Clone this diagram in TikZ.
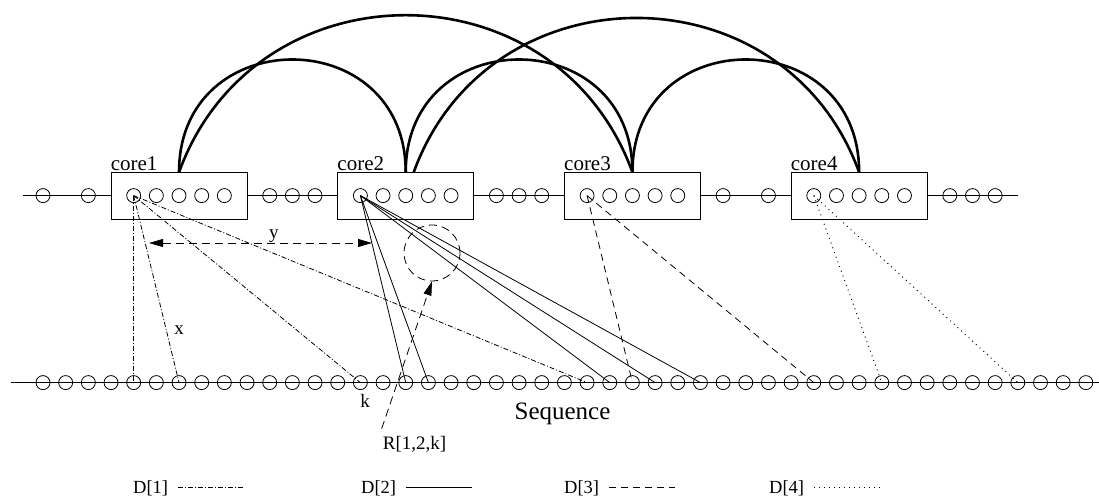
\documentclass[tikz,border=0pt]{standalone}
\usepackage{fontspec}
\setmainfont{Liberation Serif}
\usetikzlibrary{arrows.meta,calc,positioning}

\begin{document}
\begin{tikzpicture}[x=1pt, y=1pt,
  corebox/.style={draw, fill=white, line width=0.9pt, minimum width=136pt, minimum height=46.7pt, inner sep=0pt},
  cellnode/.style={draw, circle, line width=0.8pt, minimum size=14pt, inner sep=0pt},
  corelabel/.style={font=\fontsize{21}{24}\selectfont, inner sep=0pt, anchor=base west},
  labeltext/.style={font=\fontsize{19}{22}\selectfont, inner sep=0pt},
  legendtext/.style={font=\fontsize{18.5}{21}\selectfont, inner sep=0pt},
  linkline/.style={line width=2.6pt},
  dfirst/.style={line width=0.8pt, dash pattern=on 5pt off 2pt on 1pt off 2pt},
  dsecond/.style={line width=0.8pt},
  dthird/.style={line width=0.8pt, dash pattern=on 7pt off 5pt},
  dfourth/.style={line width=0.9pt, dash pattern=on 1pt off 4pt},
  guide/.style={line width=0.8pt, dash pattern=on 8pt off 5pt},
  tip/.style={-{Triangle[length=14pt,width=8pt]}}
]
\useasboundingbox (0,0) rectangle (1099,498);

% rows
\draw[line width=1pt] (10.5,115.4) -- (1099,115.4);
\draw[line width=0.9pt] (23,302.4) -- (1018,302.4);

\foreach \i in {0,...,46}
  \node[cellnode] (s\i) at ({43+22.67*\i},115.4) {};

\foreach \n/\c in {1/6,2/16,3/26,4/36}
  \node[corebox] (core\n) at ({43+22.67*\c},302) {};

\foreach \i in {0,2,4,5,6,7,8,10,11,12,14,15,16,17,18,20,21,22,24,25,26,27,28,30,32,34,35,36,37,38,40,41,42}
  \node[cellnode] (r\i) at ({43+22.67*\i},302.4) {};

\foreach \n in {1,...,4}
  \node[corelabel] at ([yshift=2pt]core\n.north west) {core\n};

% links between cores
\draw[linkline] (core1.north) to[out=90,in=90,looseness=1.7] (core2.north);
\draw[linkline] (core2.north) to[out=90,in=90,looseness=1.7] (core3.north);
\draw[linkline] (core3.north) to[out=90,in=90,looseness=1.7] (core4.north);
\draw[linkline] (core1.north) to[out=70,in=110,looseness=1.26] (core3.north);
\draw[linkline] ([xshift=8pt]core2.north) to[out=70,in=110,looseness=1.26] (core4.north);

% distances
\foreach \t in {4,6,14,24} \draw[dfirst] (r4.center) -- (s\t.center);
\foreach \t in {16,17,25,27,29} \draw[dsecond] (r14.center) -- (s\t.center);
\foreach \t in {26,34} \draw[dthird] (r24.center) -- (s\t.center);
\foreach \t in {37,43} \draw[dfourth] (r34.center) -- (s\t.center);

\node[draw, circle, guide, minimum size=56pt] (region) at (432,245) {};
\node[labeltext] (rlabel) at (414.5,54) {R[1,2,k]};
\draw[guide, tip] ([xshift=-1pt,yshift=7pt]rlabel.north west) -- (region.south);

\coordinate (ystart) at (149,255);
\coordinate (yend) at (372,255);
\draw[guide, {Triangle[length=14pt,width=8pt]}-{Triangle[length=14pt,width=8pt]}] (ystart) -- node[labeltext, anchor=base, yshift=4pt, pos=0.56] {y} (yend);

\node[labeltext] (xlabel) at (179,168) {x};
\node[labeltext] (klabel) at (365,97) {k};
\node[font=\fontsize{25}{28}\selectfont, inner sep=0pt, anchor=base] (seqlabel) at (562.5,78.6) {Sequence};

% legend
\foreach \n/\xa/\st in {1/133/dfirst,2/361/dsecond,3/564/dthird,4/769/dfourth} {
  \node[legendtext, anchor=base west] (leg\n) at (\xa,5) {D[\n]};
  \draw[\st] ([xshift=10pt]leg\n.east) -- ++(66,0);
}
\end{tikzpicture}
\end{document}
